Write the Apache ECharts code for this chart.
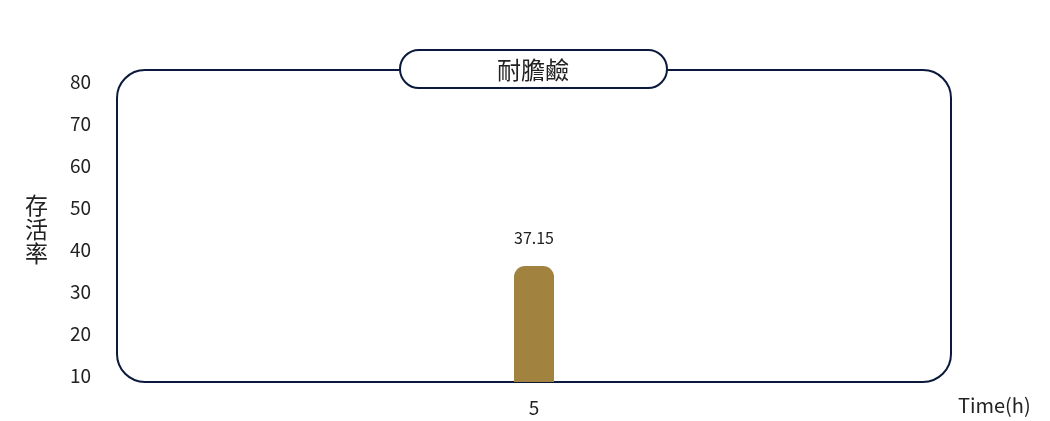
<!DOCTYPE html>
<html>
<head>
<meta charset="utf-8">
<script src="https://cdn.jsdelivr.net/npm/echarts@6/dist/echarts.min.js"></script>
<style>
  html, body { margin: 0; padding: 0; background: #fff; }
  #chart { width: 1050px; height: 421px; }
</style>
</head>
<body>
<div id="chart"></div>
<script>
const chartTitle = "耐膽鹼";
const categories = ["5"];
const survival = [37.15];
const yTicks = [10, 80, 10]; // min, max, step

const font = "'Noto Sans CJK TC', 'Noto Sans', sans-serif";
const navy = "#0b1a3c";

var myChart = echarts.init(document.getElementById("chart"));

var option = {
  animation: false,
  textStyle: { fontFamily: font },
  // rounded frame + title pill
  graphic: [
    {
      type: "rect",
      z: 0,
      shape: { x: 117, y: 70, width: 834, height: 312, r: 28 },
      style: { fill: "none", stroke: navy, lineWidth: 2 },
    },
    {
      type: "rect",
      z: 10,
      shape: { x: 400, y: 50, width: 267, height: 38, r: 19 },
      style: { fill: "#fff", stroke: navy, lineWidth: 2 },
    },
    {
      type: "text",
      z: 11,
      x: 533,
      y: 70,
      style: {
        text: chartTitle,
        fill: "#222",
        font: "24px " + font,
        align: "center",
        verticalAlign: "middle",
      },
    },
  ],
  grid: [
    { left: 117, right: 99, top: 82, bottom: 45 },
    { left: 117, right: 99, top: 70, bottom: 39 },
  ],
  xAxis: [
    { gridIndex: 0, type: "category", data: categories, show: false },
    {
      gridIndex: 1,
      type: "category",
      data: categories,
      name: "Time(h)",
      nameLocation: "end",
      nameGap: 7,
      nameTextStyle: {
        fontSize: 20,
        color: "#222",
        verticalAlign: "top",
        padding: [13, 0, 0, 0],
      },
      axisLine: { show: false },
      axisTick: { show: false },
      axisLabel: { fontSize: 19, color: "#222", margin: 16 },
    },
  ],
  yAxis: [
    {
      gridIndex: 0,
      type: "value",
      min: yTicks[0],
      max: yTicks[1],
      interval: yTicks[2],
      name: "存\n活\n率",
      nameLocation: "middle",
      nameRotate: 0,
      nameGap: 69,
      nameTextStyle: { fontSize: 23, color: "#222", lineHeight: 24 },
      axisLine: { show: false },
      axisTick: { show: false },
      splitLine: { show: false },
      axisLabel: { fontSize: 19, color: "#222", margin: 26 },
    },
    { gridIndex: 1, type: "value", min: 0, max: 100, show: false },
  ],
  series: [
    {
      type: "bar",
      xAxisIndex: 1,
      yAxisIndex: 1,
      data: survival,
      barWidth: 40,
      itemStyle: { color: "#a1823f", borderRadius: [11, 11, 0, 0] },
      label: {
        show: true,
        position: "top",
        distance: 20,
        fontSize: 16,
        color: "#222",
      },
    },
  ],
};

option && myChart.setOption(option);
</script>
</body>
</html>
